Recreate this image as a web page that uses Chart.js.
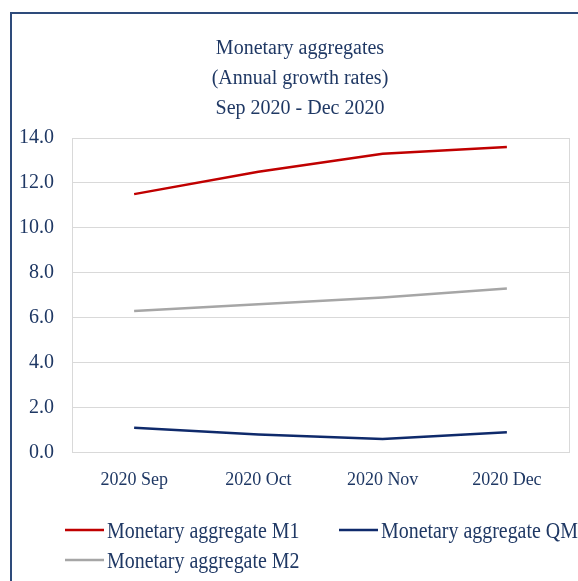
<!DOCTYPE html>
<html>
<head>
<meta charset="utf-8">
<script src="https://cdn.jsdelivr.net/npm/chart.js@4.4.1/dist/chart.umd.min.js"></script>
<style>
    html, body { margin: 0; padding: 0; background: #fff; overflow: hidden; }
    #frame {
        position: absolute; left: 10px; top: 12px; width: 620px; height: 620px;
        border-top: 2px solid #2E4B7B; border-left: 2px solid #2E4B7B;
    }
    #chart { position: absolute; left: 0; top: 0; }
</style>
</head>
<body>
<div id="frame"></div>
<canvas id="chart" width="582" height="581"></canvas>
<script>
// Data
const months = ['2020 Sep', '2020 Oct', '2020 Nov', '2020 Dec'];
const m1Values = [11.5, 12.5, 13.3, 13.6];
const qmValues = [1.1, 0.8, 0.6, 0.9];
const m2Values = [6.3, 6.6, 6.9, 7.3];
const yTicks = [0, 2, 4, 6, 8, 10, 12, 14];

const NAVY_TEXT = '#1F3864';
const GRID = '#D9D9D9';
const SERIF = "'Liberation Serif', 'Times New Roman', serif";

// Excel-like legend: two columns, filled row by row
const gridLegend = {
    id: 'gridLegend',
    afterDraw(chart, args, opts) {
        const { ctx } = chart;
        const cols = opts.columns.length;
        ctx.save();
        ctx.font = opts.fontSize + 'px ' + SERIF;
        ctx.textBaseline = 'middle';
        ctx.textAlign = 'left';
        chart.data.datasets.forEach((ds, i) => {
            const x = opts.columns[i % cols];
            const y = opts.rows[Math.floor(i / cols)];
            ctx.strokeStyle = ds.borderColor;
            ctx.lineWidth = opts.lineWidth;
            ctx.beginPath();
            ctx.moveTo(x, y);
            ctx.lineTo(x + opts.lineLength, y);
            ctx.stroke();

            ctx.save();
            ctx.translate(x + opts.lineLength + opts.gap, y + 1.5);
            ctx.scale(opts.stretch, 1);
            ctx.fillStyle = NAVY_TEXT;
            ctx.fillText(ds.label, 0, 0);
            ctx.restore();
        });
        ctx.restore();
    }
};

new Chart(document.getElementById('chart'), {
    type: 'line',
    data: {
        labels: months,
        datasets: [
            { label: 'Monetary aggregate M1', data: m1Values, borderColor: '#C00000', backgroundColor: '#C00000' },
            { label: 'Monetary aggregate QM', data: qmValues, borderColor: '#0F2A6B', backgroundColor: '#0F2A6B' },
            { label: 'Monetary aggregate M2', data: m2Values, borderColor: '#A6A6A6', backgroundColor: '#A6A6A6' }
        ]
    },
    options: {
        responsive: false,
        animation: false,
        layout: {
            padding: { left: 18, right: 0, top: 0, bottom: 73 }
        },
        elements: {
            line: { borderWidth: 2.5, tension: 0, fill: false },
            point: { radius: 0, hoverRadius: 0 }
        },
        plugins: {
            legend: { display: false },
            tooltip: { enabled: false },
            title: {
                display: true,
                text: ['Monetary aggregates', '(Annual growth rates)', 'Sep 2020 - Dec 2020'],
                color: NAVY_TEXT,
                font: { family: SERIF, size: 20, weight: 'normal', lineHeight: 1.5 },
                padding: { top: 34, bottom: 14 }
            },
            gridLegend: {
                columns: [65, 339],
                rows: [530, 560],
                lineLength: 39,
                lineWidth: 2.5,
                gap: 3,
                fontSize: 24,
                stretch: 0.83
            }
        },
        scales: {
            x: {
                offset: true,
                grid: { display: false, drawTicks: false },
                border: { display: true, color: GRID, width: 1 },
                ticks: {
                    color: NAVY_TEXT,
                    padding: 17,
                    maxRotation: 0,
                    font: { family: SERIF, size: 18 }
                }
            },
            y: {
                min: 0,
                max: 14,
                afterFit: (scale) => { scale.width = 54; },
                afterBuildTicks: (scale) => { scale.ticks = yTicks.map(v => ({ value: v })); },
                grid: { color: GRID, drawTicks: false },
                border: { display: true, color: GRID },
                ticks: {
                    color: NAVY_TEXT,
                    padding: 18,
                    font: { family: SERIF, size: 20 },
                    callback: (value) => value.toFixed(1)
                }
            },
            // right-hand edge of the plot frame
            yRight: {
                position: 'right',
                min: 0,
                max: 14,
                afterFit: (scale) => { scale.width = 13; },
                grid: { drawOnChartArea: false, drawTicks: false },
                border: { display: true, color: GRID },
                ticks: { display: false }
            }
        }
    },
    plugins: [gridLegend]
});
</script>
</body>
</html>
